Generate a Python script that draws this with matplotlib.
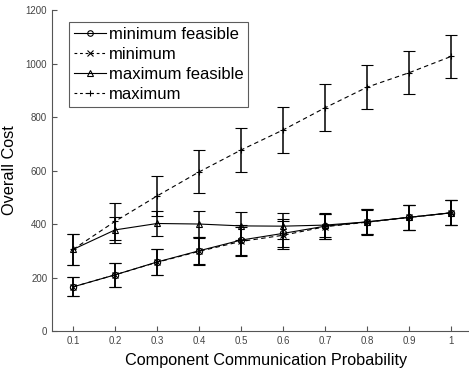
import matplotlib.pyplot as plt
from matplotlib.lines import Line2D
import numpy as np

plt.rcParams['font.family'] = ['Liberation Sans', 'DejaVu Sans']

# communication probability on the x axis
probability = [0.1, 0.2, 0.3, 0.4, 0.5, 0.6, 0.7, 0.8, 0.9, 1.0]

# mean overall cost for each strategy
min_feasible = [165, 210, 258, 300, 340, 365, 392, 408, 425, 442]
minimum = [165, 210, 257, 298, 335, 358, 390, 407, 425, 442]
max_feasible = [305, 378, 402, 400, 393, 392, 396, 408, 425, 442]
maximum = [305, 410, 505, 595, 677, 752, 835, 912, 966, 1027]

# half-widths of the error bars
min_feasible_err = [36, 44, 48, 51, 55, 52, 47, 47, 47, 46]
minimum_err = [36, 44, 48, 51, 55, 53, 47, 47, 47, 46]
max_feasible_err = [57, 49, 46, 50, 52, 48, 46, 47, 47, 46]
maximum_err = [57, 70, 75, 80, 83, 85, 87, 83, 80, 80]

series = [
    ('minimum feasible', min_feasible, min_feasible_err, '-', 'o'),
    ('minimum', minimum, minimum_err, '--', 'x'),
    ('maximum feasible', max_feasible, max_feasible_err, '-', '^'),
    ('maximum', maximum, maximum_err, '--', '+'),
]

fig = plt.figure(figsize=(4.69, 3.74), dpi=100)
ax = fig.add_axes([0.111, 0.115, 0.896, 0.858])

handles = []
for label, vals, err, ls, mk in series:
    dashes = (4, 3) if ls == '--' else (None, None)
    ax.errorbar(probability, vals, yerr=err, color='black', linestyle=ls,
                linewidth=0.8, marker=mk, markersize=4.5,
                markerfacecolor='none', markeredgewidth=0.8,
                elinewidth=1.1, capsize=4.5, capthick=1.1, dashes=dashes)
    # legend entry without the error bar
    h = Line2D([], [], color='black', linestyle=ls, linewidth=0.8, marker=mk,
               markersize=4, markerfacecolor='none', markeredgewidth=0.8,
               dashes=(2.5, 2.5) if ls == '--' else (None, None))
    handles.append(h)

ax.set_xlim(0.05, 1.05)
ax.set_ylim(0, 1200)
ax.set_xticks(probability)
ax.set_xticklabels(['0.1', '0.2', '0.3', '0.4', '0.5', '0.6', '0.7', '0.8', '0.9', '1'])
ax.set_yticks(np.arange(0, 1201, 200))

for side in ['top', 'right']:
    ax.spines[side].set_visible(False)
for side in ['left', 'bottom']:
    ax.spines[side].set_color('#555555')
    ax.spines[side].set_linewidth(0.8)
ax.tick_params(direction='in', length=3.5, width=0.8, color='#555555',
               labelsize=7, labelcolor='#444444')

ax.set_xlabel('Component Communication Probability', fontsize=11.7)
ax.xaxis.set_label_coords(0.51, -0.068)
ax.set_ylabel('Overall Cost', fontsize=11.7, labelpad=6)

leg = ax.legend(handles=handles, labels=[s[0] for s in series],
                loc='upper left', bbox_to_anchor=(0.04, 0.963),
                fontsize=12, frameon=True, fancybox=False, handlelength=1.9,
                handletextpad=0.2, borderpad=0.3, labelspacing=0.3,
                borderaxespad=0)
leg.get_frame().set_edgecolor('#333333')
leg.get_frame().set_linewidth(0.8)

fig.savefig('out.png', dpi=100)
